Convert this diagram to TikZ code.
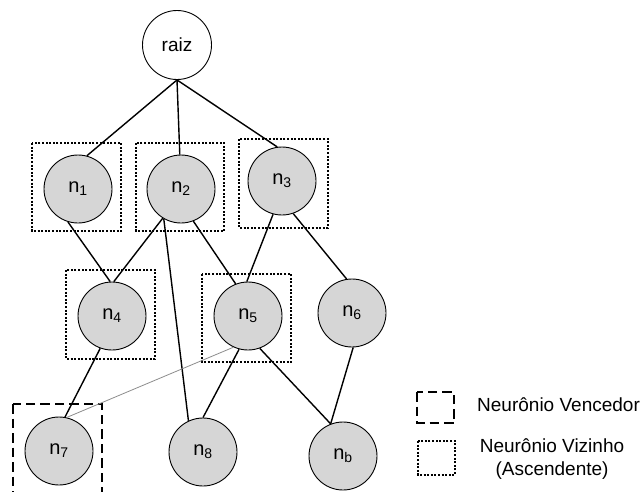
\documentclass[tikz,border=0pt]{standalone}
\usepackage{fontspec}
\setmainfont{Liberation Sans}
\begin{document}
\begin{tikzpicture}[x=1pt,y=-1pt,
  neur/.style={circle, draw, line width=0.9pt, fill=black!16, minimum size=68pt, inner sep=0pt, font=\fontsize{20}{24}\selectfont},
  rootn/.style={circle, draw, line width=0.9pt, fill=white, minimum size=69pt, inner sep=0pt, font=\fontsize{19}{23}\selectfont},
  edge/.style={line width=1.4pt},
  faint/.style={line width=0.8pt, draw=black!45},
  viz/.style={draw, line width=1.4pt, dash pattern=on 2pt off 1.6pt},
  venc/.style={draw, line width=1.8pt, dash pattern=on 9.5pt off 5pt},
  legtext/.style={font=\fontsize{19}{23}\selectfont, inner sep=0pt}]
\useasboundingbox (0,0) rectangle (643,491);

% neighbour / winner boxes
\draw[viz] (32,143) rectangle (121,231);
\draw[viz] (136,143) rectangle (224,231);
\draw[viz] (239,139) rectangle (328,228);
\draw[viz] (66,270) rectangle (155,359);
\draw[viz] (202,274) rectangle (291,362);
\draw[venc] (13,404) rectangle (102,500);

% nodes
\node[rootn] (raiz) at (177,45) {raiz};
\node[neur] (n1) at (78,189) {n\textsubscript{1}};
\node[neur] (n2) at (181,189) {n\textsubscript{2}};
\node[neur] (n3) at (282,181) {n\textsubscript{3}};
\node[neur] (n4) at (112,316) {n\textsubscript{4}};
\node[neur] (n5) at (248,316) {n\textsubscript{5}};
\node[neur] (n6) at (352,313) {n\textsubscript{6}};
\node[neur] (n7) at (59,451) {n\textsubscript{7}};
\node[neur] (n8) at (203,452) {n\textsubscript{8}};
\node[neur] (nb) at (343,456) {n\textsubscript{b}};

% edges
\draw[edge] (raiz.south) -- (n1.75);
\draw[edge] (raiz.south) -- (n2.92);
\draw[edge] (raiz.south) -- (n3.98);
\draw[edge] (n1.253) -- (n4.93);
\draw[edge] (n2.238) -- (n4.87);
\draw[edge] (n2.240) -- (n8.115);
\draw[edge] (n2.291) -- (n5.111);
\draw[edge] (n3.255) -- (n5.92);
\draw[edge] (n3.289) -- (n6.99);
\draw[edge] (n4.250) -- (n7.80);
\draw[faint] (n5.245) -- (n7.77);
\draw[edge] (n5.255) -- (n8.90);
\draw[edge] (n5.290) -- (nb.111);
\draw[edge] (n6.272) -- (nb.111);

% legend
\draw[venc] (417,392) rectangle (454,423);
\draw[viz] (418,441) rectangle (455,475);
\node[legtext, anchor=west] (lv) at (477,405) {Neurônio Vencedor};
\node[legtext, align=center] (lz) at (552,459) {Neurônio Vizinho\\(Ascendente)};
\end{tikzpicture}
\end{document}
